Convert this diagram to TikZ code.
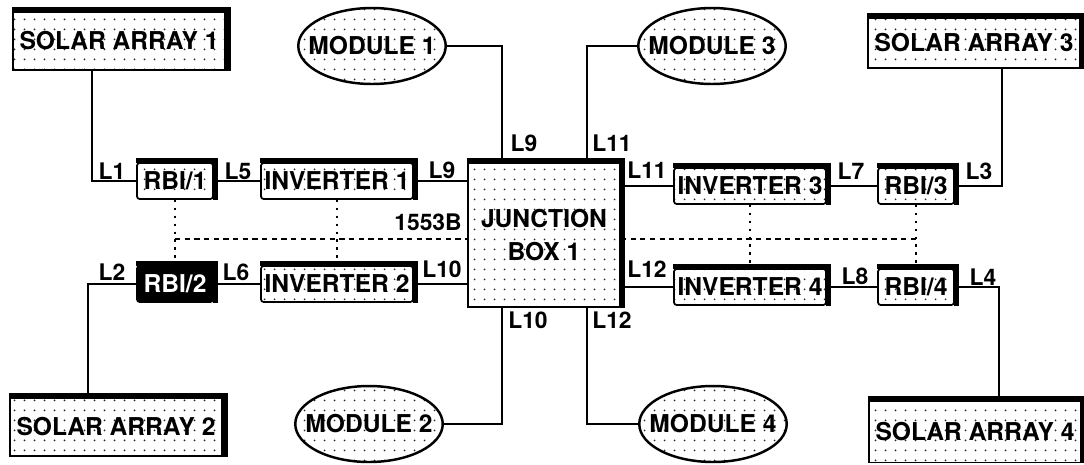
\documentclass[tikz,border=0pt]{standalone}
\usepackage{fontspec}
\setmainfont{TeX Gyre Heros}
\usetikzlibrary{shapes.geometric,patterns.meta}
\tikzdeclarepattern{
  name=sparsedots,
  type=uncolored,
  bottom left={(0pt,0pt)},
  top right={(5.7pt,5.7pt)},
  tile size={(5.7pt,5.7pt)},
  code={\fill (2.85pt,2.85pt) circle (.6pt);}
}

\begin{document}
\begin{tikzpicture}[x=.02cm,y=-.02cm,font=\fontsize{14}{19}\selectfont\bfseries,line width=1.1pt,
  plainbox/.style={draw,line width=1pt,inner sep=1pt},
  speckle/.style={pattern=sparsedots,pattern color=black!85},
  panel/.style={plainbox,speckle,minimum width=4.25cm,minimum height=1.15cm},
  rbibox/.style={plainbox,rounded corners=1.5pt,minimum width=1.52cm,minimum height=.72cm},
  rbi/.style={rbibox,speckle},
  inverter/.style={plainbox,speckle,rounded corners=1.5pt,minimum width=3.04cm,minimum height=.72cm},
  module/.style={draw,speckle,ellipse,line width=1.4pt,minimum width=2.95cm,minimum height=1.52cm,
    inner xsep=-.3cm,inner ysep=0pt},
  lbl/.style={font=\fontsize{13}{15}\selectfont\bfseries,inner sep=0pt},
  bus/.style={line width=1.1pt,dash pattern=on 3pt off 2.5pt},
  tap/.style={line width=1.3pt,dash pattern=on 1.3pt off 3.2pt}]
  \useasboundingbox (0,0) rectangle (1084,464);

  % solar arrays and modules
  \node[panel] (sa1) at (119,41) {SOLAR ARRAY 1};
  \node[panel] (sa2) at (116,427) {SOLAR ARRAY 2};
  \node[panel,minimum height=1cm] (sa3) at (974,43) {SOLAR ARRAY 3};
  \node[panel,minimum height=1.22cm] (sa4) at (975,432) {SOLAR ARRAY 4};
  \node[module] (m1) at (372,46) {MODULE 1};
  \node[module] (m2) at (369,424) {MODULE 2};
  \node[module] (m3) at (712,46) {MODULE 3};
  \node[module] (m4) at (713,424) {MODULE 4};

  % interfaces, inverters, junction box
  \node[rbi] (rbi1) at (175,181) {RBI/1};
  \node[rbibox,fill=black,text=white] (rbi2) at (175,284) {RBI/2};
  \node[rbi] (rbi3) at (916,186) {RBI/3};
  \node[rbi] (rbi4) at (916,287) {RBI/4};
  \node[inverter] (inv1) at (337,181) {INVERTER 1};
  \node[inverter] (inv2) at (337,284) {INVERTER 2};
  \node[inverter] (inv3) at (750,186) {INVERTER 3};
  \node[inverter] (inv4) at (750,287) {INVERTER 4};
  \node[plainbox,speckle,minimum width=3.04cm,minimum height=2.88cm,align=center] (jb) at (544,235)
    {JUNCTION\\BOX 1};

  \foreach \n in {sa1,sa2,sa3,sa4,rbi1,rbi2,rbi3,rbi4,inv1,inv2,inv3,inv4,jb}
    \draw[line width=3pt] ([yshift=1pt]\n.north west) -- ([shift={(1pt,1pt)}]\n.north east)
      -- ([xshift=1pt]\n.south east);

  % power lines
  \coordinate (p1) at (92,0);
  \coordinate (p2) at (88,0);
  \coordinate (p3) at (1002,0);
  \coordinate (p4) at (999,0);
  \draw (sa1.south -| p1) |- (rbi1);
  \draw (sa2.north -| p2) |- (rbi2);
  \draw (sa3.south -| p3) |- (rbi3);
  \draw (sa4.north -| p4) |- (rbi4);
  \draw (rbi1) -- (inv1);
  \draw (rbi2) -- (inv2);
  \draw (inv3) -- (rbi3);
  \draw (inv4) -- (rbi4);
  \draw (inv1.east) -- (inv1.east -| jb.west);
  \draw (inv2.east) -- (inv2.east -| jb.west);
  \draw (jb.east |- inv3) -- (inv3);
  \draw (jb.east |- inv4) -- (inv4);
  \coordinate (q1) at (502,0);
  \coordinate (q2) at (587,0);
  \draw (m1) -| (jb.north -| q1);
  \draw (m3) -| (jb.north -| q2);
  \draw (m2) -| (jb.south -| q1);
  \draw (m4) -| (jb.south -| q2);

  % data bus
  \coordinate (b1) at (175,239);
  \draw[bus] (b1) -- (b1 -| jb.west);
  \draw[bus] (jb.east |- b1) -- (b1 -| rbi3);
  \draw[tap] (rbi1) -- (rbi2);
  \draw[tap] (inv1) -- (inv2);
  \draw[tap] (inv3) -- (inv4);
  \draw[tap] (rbi3) -- (rbi4);

  % line labels
  \node[lbl] (l1) at (112,171) {L1};
  \node[lbl] (l5) at (238,171) {L5};
  \node[lbl] (l9a) at (442,170) {L9};
  \node[lbl] (l9b) at (524,143) {L9};
  \node[lbl] (l11a) at (612,143) {L11};
  \node[lbl] (l11b) at (647,170) {L11};
  \node[lbl] (l7) at (851,171) {L7};
  \node[lbl] (l3) at (979,171) {L3};
  \node[lbl] (l2) at (112,272) {L2};
  \node[lbl] (l6) at (236,272) {L6};
  \node[lbl] (l10a) at (442,269) {L10};
  \node[lbl] (l12a) at (647,269) {L12};
  \node[lbl] (l8) at (855,276) {L8};
  \node[lbl] (l4) at (983,277) {L4};
  \node[lbl] (l10b) at (528,320) {L10};
  \node[lbl] (l12b) at (612,320) {L12};
  \node[lbl] (l1553) at (428,222) {1553B};
\end{tikzpicture}
\end{document}
